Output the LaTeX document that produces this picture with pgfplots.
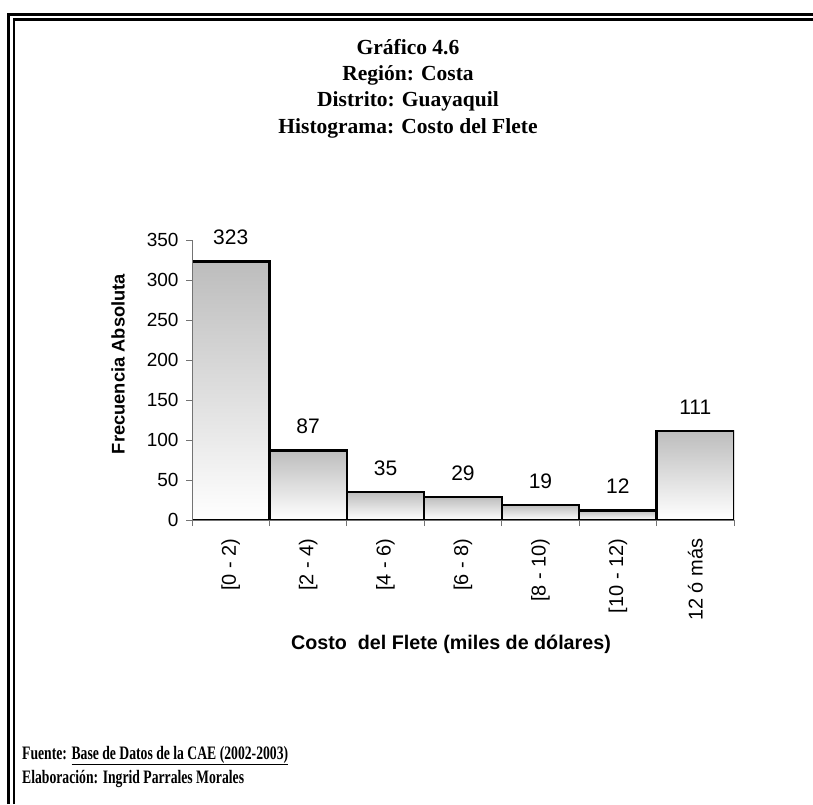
\documentclass[border=0pt]{standalone}
\usepackage{pgfplots}
\pgfplotsset{compat=1.18}
\usepackage{graphicx}
\usepackage{fontspec}
\setmainfont{Liberation Sans}
\newfontfamily\serif{Liberation Serif}
\definecolor{axgray}{gray}{0.45}
\pgfplotsset{histbar/.style={ybar, bar width=77.43pt, draw=black, line width=2.4pt, top color=gray!52, bottom color=white}}
\begin{document}
\begin{tikzpicture}[x=1pt,y=1pt]
\path[use as bounding box] (0,0) rectangle (813,-804);
\draw[line width=2.6pt] (8.7,-804) -- (8.7,-14.7) -- (813,-14.7);
\draw[line width=2.6pt] (14,-804) -- (14,-19.7) -- (813,-19.7);
\begin{scope}[every node/.style={font=\serif\bfseries\fontsize{21.5}{25}\selectfont, anchor=base, inner sep=0pt}]
\node at (408,-54) {Gráfico 4.6};
\node at (408,-80) {Región: Costa};
\node at (408,-106.5) {Distrito: Guayaquil};
\node at (408,-133) {Histograma: Costo del Flete};
\end{scope}
\begin{axis}[
  at={(192pt,-520pt)}, anchor=south west, scale only axis,
  width=542pt, height=280pt,
  xmin=0, xmax=7, ymin=0, ymax=350,
  axis x line*=bottom, axis y line*=left,
  axis line style={axgray, line width=0.8pt},
  axis on top,
  ytick={0,50,...,350},
  xtick={0,1,...,7}, xticklabels={},
  extra x ticks={0.5,1.5,2.5,3.5,4.5,5.5,6.5},
  extra x tick labels={{[0 - 2)},{[2 - 4)},{[4 - 6)},{[6 - 8)},{[8 - 10)},{[10 - 12)},{12 ó más}},
  extra x tick style={major tick length=0pt, tick label style={font=\fontsize{20}{24}\selectfont, rotate=90, anchor=east, xshift=-15pt}},
  tick align=outside, major tick length=6pt,
  tick style={axgray, line width=0.8pt},
  yticklabel style={font=\fontsize{19}{22}\selectfont, xshift=-4pt},
  /pgf/number format/assume math mode=true,
  nodes near coords,
  every node near coord/.append style={font=\fontsize{21}{24}\selectfont, yshift=12pt, black},
]
\addplot[histbar] coordinates {(0.5,323)};
\addplot[histbar] coordinates {(1.5,87)};
\addplot[histbar] coordinates {(2.5,35)};
\addplot[histbar] coordinates {(3.5,29)};
\addplot[histbar] coordinates {(4.5,19)};
\addplot[histbar] coordinates {(5.5,12)};
\addplot[histbar] coordinates {(6.5,111)};
\end{axis}
\node[font=\bfseries\fontsize{18.3}{22}\selectfont, rotate=90] at (118,-364) {Frecuencia Absoluta};
\node[font=\bfseries\fontsize{19.7}{22}\selectfont] at (451,-644) {Costo \ del Flete (miles de dólares)};
\node[font=\serif\bfseries\fontsize{19}{24}\selectfont, anchor=base west, inner sep=0pt] at (22,-759) {\scalebox{0.72}[1]{Fuente: \underline{Base de Datos de la CAE (2002-2003)}}};
\node[font=\serif\bfseries\fontsize{19}{24}\selectfont, anchor=base west, inner sep=0pt] at (22,-783) {\scalebox{0.72}[1]{Elaboración: Ingrid Parrales Morales}};
\end{tikzpicture}
\end{document}
